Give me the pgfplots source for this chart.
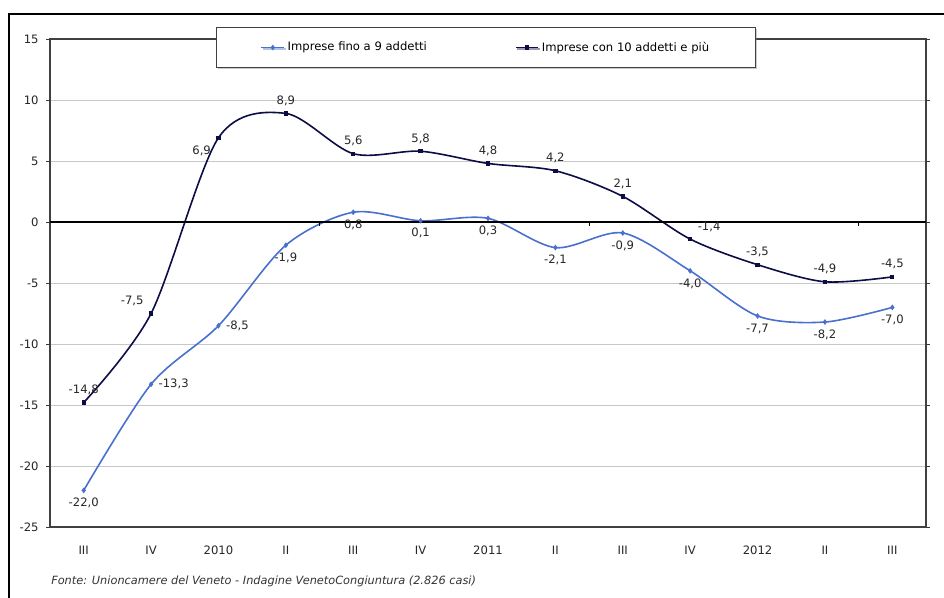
\documentclass[border=0pt]{standalone}
\usepackage{pgfplots}
\pgfplotsset{compat=1.18}
\usepackage{pgfplotstable}
\usepackage{fontspec}
\setmainfont{DejaVu Sans}
\usetikzlibrary{shadows}

\definecolor{lightser}{RGB}{72,112,204}
\definecolor{darkser}{RGB}{12,12,70}
\definecolor{gridgray}{RGB}{200,200,200}

% Imprese fino a 9 addetti
\pgfplotstableread{
x y lab
0  -22.0 -22,0
1  -13.3 -13,3
2  -8.5  -8,5
3  -1.9  -1,9
4  0.8   0,8
5  0.1   0,1
6  0.3   0,3
7  -2.1  -2,1
8  -0.9  -0,9
9  -4.0  -4,0
10 -7.7  -7,7
11 -8.2  -8,2
12 -7.0  -7,0
}\piccole

% Imprese con 10 addetti e piu
\pgfplotstableread{
x y lab
0  -14.8 -14,8
1  -7.5  -7,5
2  6.9   6,9
3  8.9   8,9
4  5.6   5,6
5  5.8   5,8
6  4.8   4,8
7  4.2   4,2
8  2.1   2,1
9  -1.4  -1,4
10 -3.5  -3,5
11 -4.9  -4,9
12 -4.5  -4,5
}\grandi

\pgfplotsset{
  etichetta/.style={
    forget plot, draw=none, mark=none,
    nodes near coords,
    point meta=explicit symbolic,
    every node near coord/.style={font=\fontsize{8.7}{10}\selectfont,
        text=black!85, anchor=#1, inner sep=5.5pt},
  },
  serpiccole/.style={lightser, line width=1.2pt, mark=diamond*, mark size=1.2pt},
  sergrandi/.style={darkser, line width=1.2pt, mark=square*, mark size=1pt},
}

\begin{document}
\begin{tikzpicture}
\useasboundingbox (0,0) rectangle (708pt,447.75pt);
\draw[black, line width=0.8pt] (6.75pt,-2pt) -- (6.75pt,437.25pt) -- (710pt,437.25pt);

\begin{axis}[
    at={(37.5pt,52.5pt)}, anchor=south west,
    scale only axis,
    width=657pt, height=366pt,
    xmin=-0.5, xmax=12.5,
    ymin=-25, ymax=15,
    xtick={0,...,12},
    xticklabels={III,IV,2010,II,III,IV,2011,II,III,IV,2012,II,III},
    xtick style={draw=none},
    ytick={-25,-20,...,15},
    tick align=outside,
    ytick style={black!80, thin},
    major tick length=3pt,
    ymajorgrids,
    grid style={gridgray, line width=0.7pt},
    axis line style={black!75, line width=0.8pt},
    /pgf/number format/assume math mode=true,
    ticklabel style={font=\fontsize{8.7}{10}\selectfont, text=black!85},
    xticklabel style={yshift=-8pt},
    yticklabel style={xshift=-2pt},
    legend columns=2,
    legend style={at={(0.498,0.9825)}, anchor=center,
        draw=black!75, fill=white, line width=0.7pt,
        font=\fontsize{8.7}{10}\selectfont,
        inner xsep=33pt, inner ysep=9pt,
        drop shadow={shadow xshift=1pt, shadow yshift=-1pt, opacity=0.4},
        /tikz/every even column/.append style={column sep=64pt}},
]
\addplot[serpiccole, smooth] table[x=x, y=y] {\piccole};
\addlegendentry{Imprese fino a 9 addetti}
\addplot[sergrandi, smooth] table[x=x, y=y] {\grandi};
\addlegendentry{Imprese con 10 addetti e più}

% data labels, grouped by position
\addplot[etichetta=north] table[x=x, y=y, meta=lab] {
x y lab
0  -22.0 -22,0
3  -1.9  -1,9
4  0.8   0,8
5  0.1   0,1
6  0.3   0,3
7  -2.1  -2,1
8  -0.9  -0,9
9  -4.0  -4,0
10 -7.7  -7,7
11 -8.2  -8,2
12 -7.0  -7,0
};
\addplot[etichetta=west] table[x=x, y=y, meta=lab] {
x y lab
1  -13.3 -13,3
2  -8.5  -8,5
};
\addplot[etichetta=south] table[x=x, y=y, meta=lab] {
x y lab
0  -14.8 -14,8
3  8.9   8,9
4  5.6   5,6
5  5.8   5,8
6  4.8   4,8
7  4.2   4,2
8  2.1   2,1
10 -3.5  -3,5
11 -4.9  -4,9
12 -4.5  -4,5
};
\addplot[etichetta=south east] table[x=x, y=y, meta=lab] {
x y lab
1  -7.5  -7,5
};
\addplot[etichetta=north east] table[x=x, y=y, meta=lab] {
x y lab
2  6.9   6,9
};
\addplot[etichetta=south west] table[x=x, y=y, meta=lab] {
x y lab
9  -1.4  -1,4
};

\draw[black, line width=0.8pt] (axis cs:-0.5,0) -- (axis cs:12.5,0);
\pgfplotsinvokeforeach{3.5,7.5,11.5}{
    \draw[black, line width=0.7pt] (axis cs:#1,0) -- ++(0pt,-3pt);
}
\end{axis}

\node[anchor=west, inner sep=0pt, font=\fontsize{8.5}{10}\selectfont\itshape, text=black!80]
    at (38.25pt,12pt) {Fonte: Unioncamere del Veneto - Indagine VenetoCongiuntura (2.826 casi)};
\end{tikzpicture}
\end{document}
